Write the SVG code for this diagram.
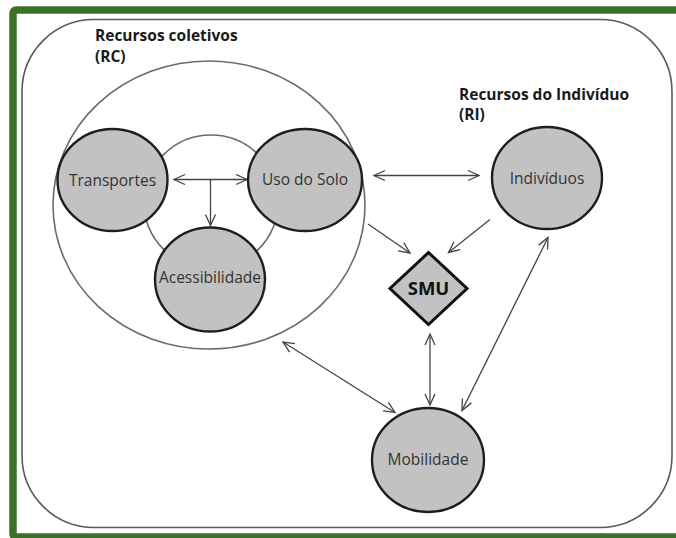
<svg xmlns="http://www.w3.org/2000/svg" width="676" height="538" viewBox="0 0 676 538">
<defs>
<style>
.node{fill:#c2c2c2;stroke:#1e1e1e;stroke-width:2.4}
.lbl{font-family:"Open Sans","Liberation Sans",sans-serif;font-size:15.5px;fill:#333;text-anchor:middle}
.title{font-family:"Open Sans","Liberation Sans",sans-serif;font-size:15.5px;font-weight:bold;fill:#1a1a1a}
.ring{fill:none;stroke:#6a6a6a;stroke-width:1.6}
.conn{fill:none;stroke:#444;stroke-width:1.3}
</style>
<marker id="ah" markerUnits="userSpaceOnUse" markerWidth="14" markerHeight="14" refX="12" refY="6" orient="auto-start-reverse">
<path d="M1,1 L12,6 L1,11" fill="none" stroke="#444" stroke-width="1.3"/>
</marker>
</defs>
<rect width="676" height="538" fill="#ffffff"/>
<rect x="13" y="10" width="700" height="527" rx="3" fill="none" stroke="#3d7129" stroke-width="7.5"/>
<rect x="22" y="19.5" width="650" height="508" rx="72" ry="72" fill="none" stroke="#5a5a5a" stroke-width="1.6"/>
<g id="rc">
<ellipse cx="209" cy="205" rx="156" ry="144" class="ring"/>
<circle cx="211" cy="202" r="67" class="ring"/>
<text class="title" x="95" y="40.5">Recursos coletivos</text>
<text class="title" x="95" y="61.5">(RC)</text>
</g>
<g id="ri">
<text class="title" x="459" y="99.5">Recursos do Indivíduo</text>
<text class="title" x="459" y="120">(RI)</text>
</g>
<g id="connectors">
<line class="conn" x1="174" y1="179.5" x2="247" y2="179.5" marker-start="url(#ah)" marker-end="url(#ah)"/>
<line class="conn" x1="210.5" y1="179.5" x2="210.5" y2="225.5" marker-end="url(#ah)"/>
<line class="conn" x1="374" y1="175.5" x2="479" y2="175.5" marker-start="url(#ah)" marker-end="url(#ah)"/>
<line class="conn" x1="368" y1="224" x2="410" y2="253" marker-end="url(#ah)"/>
<line class="conn" x1="490" y1="219.5" x2="448.5" y2="252.5" marker-end="url(#ah)"/>
<line class="conn" x1="430" y1="334" x2="430" y2="405" marker-start="url(#ah)" marker-end="url(#ah)"/>
<line class="conn" x1="283" y1="342" x2="395" y2="412.5" marker-start="url(#ah)" marker-end="url(#ah)"/>
<line class="conn" x1="548" y1="237.5" x2="462" y2="410.5" marker-start="url(#ah)" marker-end="url(#ah)"/>
</g>
<g id="transportes">
<ellipse class="node" cx="112.5" cy="180" rx="55" ry="51"/>
<text class="lbl" x="112.5" y="185.5">Transportes</text>
</g>
<g id="uso-do-solo">
<ellipse class="node" cx="305" cy="180" rx="57" ry="51"/>
<text class="lbl" x="305" y="185">Uso do Solo</text>
</g>
<g id="acessibilidade">
<ellipse class="node" cx="210" cy="279.5" rx="55" ry="52"/>
<text class="lbl" x="210" y="283">Acessibilidade</text>
</g>
<g id="individuos">
<ellipse class="node" cx="547" cy="178" rx="55" ry="51"/>
<text class="lbl" x="547" y="184">Indivíduos</text>
</g>
<g id="smu">
<polygon points="428.5,252.5 467,288.5 428.5,324.5 390,288.5" fill="#c2c2c2" stroke="#111" stroke-width="3"/>
<text x="428.5" y="295" text-anchor="middle" font-family="'Open Sans','Liberation Sans',sans-serif" font-size="18.5" font-weight="bold" fill="#111">SMU</text>
</g>
<g id="mobilidade">
<ellipse class="node" cx="428" cy="460" rx="56" ry="52"/>
<text class="lbl" x="428" y="465">Mobilidade</text>
</g>
</svg>
